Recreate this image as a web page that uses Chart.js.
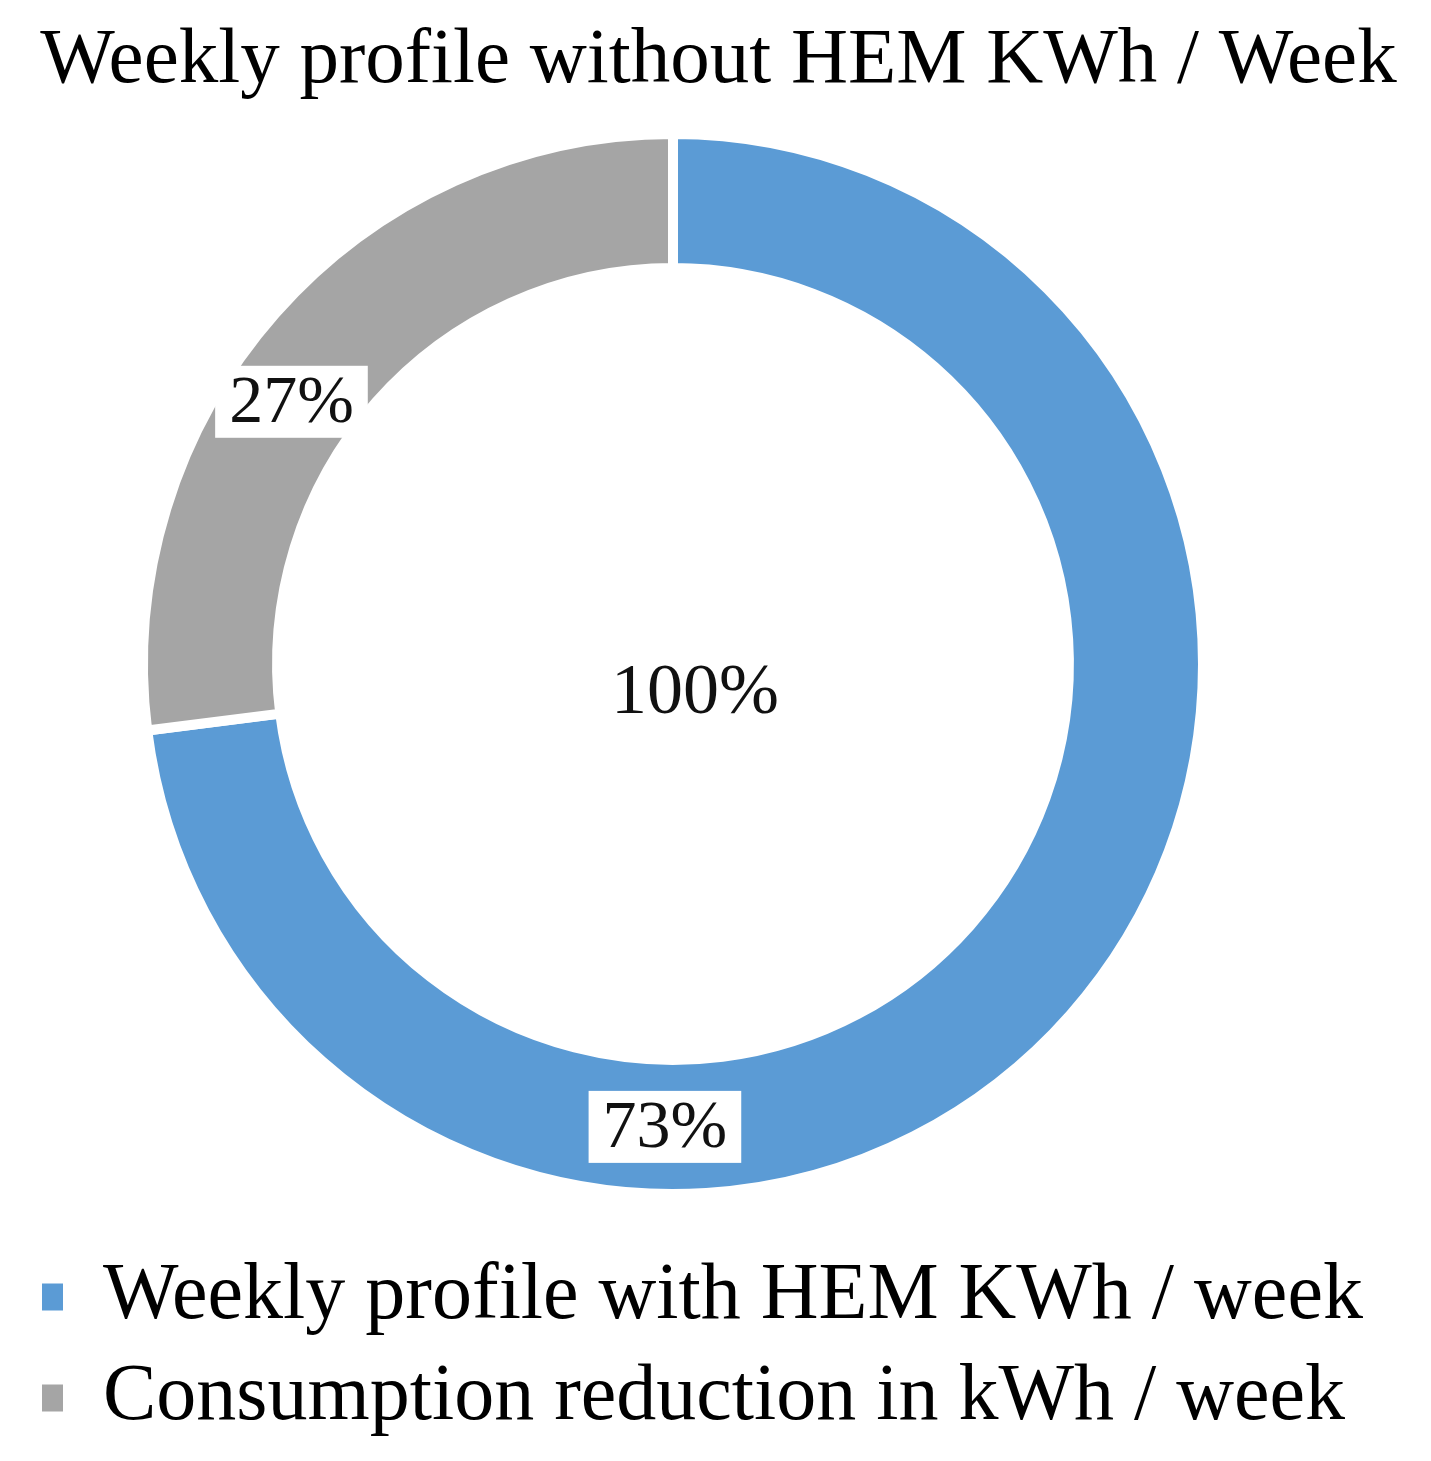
<!DOCTYPE html>
<html>
<head>
<meta charset="utf-8">
<script src="https://cdn.jsdelivr.net/npm/chart.js@4/dist/chart.umd.min.js"></script>
<style>
  html, body { margin: 0; padding: 0; background: #ffffff; }
  #wrap { width: 1431px; height: 1461px; }
</style>
</head>
<body>
<div id="wrap"><canvas id="c" width="1431" height="1461"></canvas></div>
<script>
const chartTitle = 'Weekly profile without HEM KWh / Week';
const categories = ['Weekly profile with HEM KWh / week', 'Consumption reduction in kWh / week'];
const values = [73, 27];
const percentLabels = ['73%', '27%'];
const centerLabel = '100%';
const colors = ['#5B9BD5', '#A5A5A5'];

const FONT = '"Liberation Serif", "DejaVu Serif", serif';

const titlePlugin = {
  id: 'canvasTitle',
  afterDraw(chart, args, opts) {
    const ctx = chart.ctx;
    ctx.save();
    ctx.font = opts.size + 'px ' + FONT;
    ctx.fillStyle = '#000000';
    ctx.textAlign = 'center';
    ctx.textBaseline = 'alphabetic';
    ctx.fillText(chartTitle, chart.width / 2 + opts.dx, opts.baseline);
    ctx.restore();
  }
};

// shift the plot area horizontally (the ring sits left of the page centre)
const shiftPlugin = {
  id: 'areaShift',
  afterLayout(chart, args, opts) {
    const a = chart.chartArea;
    a.left += opts.dx;
    a.right += opts.dx;
  }
};

const labelPlugin = {
  id: 'ringLabels',
  afterDatasetsDraw(chart, args, opts) {
    const ctx = chart.ctx;
    const meta = chart.getDatasetMeta(0);
    ctx.save();
    ctx.font = opts.size + 'px ' + FONT;
    ctx.textAlign = 'center';
    ctx.textBaseline = 'middle';
    meta.data.forEach((arc, i) => {
      const p = arc.getProps(['x', 'y', 'innerRadius', 'outerRadius'], true);
      const r = (p.innerRadius + p.outerRadius) / 2;
      const a = opts.angles[i] * Math.PI / 180;
      const x = p.x + r * Math.sin(a);
      const y = p.y - r * Math.cos(a);
      const txt = percentLabels[i];
      const w = ctx.measureText(txt).width + 2 * opts.padX;
      const h = opts.boxH;
      ctx.fillStyle = '#ffffff';
      ctx.fillRect(x - w / 2, y - h / 2, w, h);
      ctx.fillStyle = '#111111';
      ctx.fillText(txt, x, y + 2);
    });
    const c = meta.data[0].getProps(['x', 'y'], true);
    ctx.font = opts.centerSize + 'px ' + FONT;
    ctx.fillStyle = '#111111';
    ctx.fillText(centerLabel, c.x + opts.centerDx, c.y + opts.centerDy);
    ctx.restore();
  }
};

new Chart(document.getElementById('c'), {
  type: 'doughnut',
  data: {
    labels: categories,
    datasets: [{
      data: values,
      backgroundColor: colors,
      borderColor: '#ffffff',
      borderWidth: 10,
      radius: 530,
      cutout: '74.7%'
    }]
  },
  options: {
    responsive: false,
    animation: false,
    layout: { padding: { left: 21, right: 21, top: 92, bottom: 13 } },
    plugins: {
      title: { display: false },
      legend: {
        position: 'bottom',
        align: 'start',
        labels: {
          color: '#000000',
          font: { family: FONT, size: 80 },
          boxWidth: 21,
          boxHeight: 27,
          padding: 21,
          generateLabels(chart) {
            const items = Chart.overrides.doughnut.plugins.legend.labels.generateLabels(chart);
            items.forEach(it => { it.lineWidth = 0; it.strokeStyle = it.fillStyle; });
            return items;
          }
        }
      },
      tooltip: { enabled: false },
      areaShift: { dx: -42.5 },
      canvasTitle: { size: 79, dx: 3, baseline: 82 },
      ringLabels: { angles: [181, 304.5], size: 68, padX: 14, boxH: 72, centerSize: 72, centerDx: 22, centerDy: 30 }
    }
  },
  plugins: [shiftPlugin, labelPlugin, titlePlugin]
});
</script>
</body>
</html>
